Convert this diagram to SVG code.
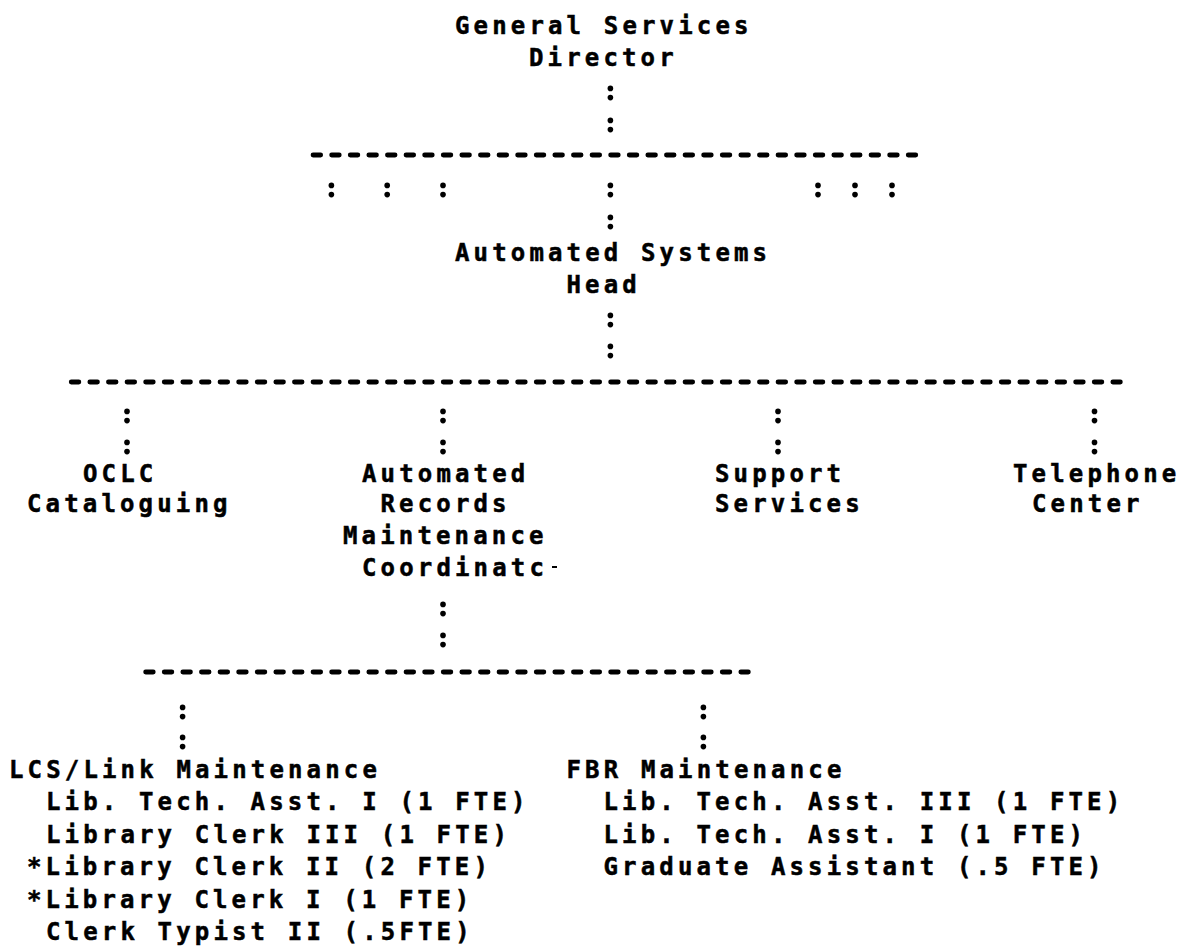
<svg xmlns="http://www.w3.org/2000/svg" xmlns:xlink="http://www.w3.org/1999/xlink" width="1183" height="946" viewBox="0 0 1183 946">
<style>
  text { font-family: "DejaVu Sans Mono", "Liberation Mono", monospace; font-weight: bold; font-size: 24px; letter-spacing: 4.15px; fill: #000; stroke: #000; stroke-width: 0.5px; }
  .dash { stroke: #000; stroke-width: 4.8; stroke-linecap: round; stroke-dasharray: 7.6 11; fill: none; }
  .dot { fill: #000; }
</style>
<defs>
  <g id="colon">
    <circle class="dot" cx="0" cy="-4.6" r="2.8"/>
    <circle class="dot" cx="0" cy="4.6" r="2.8"/>
  </g>
</defs>
<rect x="0" y="0" width="1183" height="946" fill="#fff"/>

<g id="connectors">
  <!-- Director to Head -->
  <use xlink:href="#colon" x="610.4" y="93"/>
  <use xlink:href="#colon" x="610.4" y="125"/>
  <line class="dash" x1="313.05" y1="155" x2="915.75" y2="155"/>
  <use xlink:href="#colon" x="331.4" y="190"/>
  <use xlink:href="#colon" x="387.2" y="190"/>
  <use xlink:href="#colon" x="443" y="190"/>
  <use xlink:href="#colon" x="610.4" y="190"/>
  <use xlink:href="#colon" x="818" y="190"/>
  <use xlink:href="#colon" x="855" y="190"/>
  <use xlink:href="#colon" x="892" y="190"/>
  <use xlink:href="#colon" x="610.4" y="222"/>
  <!-- Head to units -->
  <use xlink:href="#colon" x="610.4" y="320"/>
  <use xlink:href="#colon" x="610.4" y="351"/>
  <line class="dash" x1="71.25" y1="382" x2="1120.35" y2="382"/>
  <use xlink:href="#colon" x="127" y="416"/>
  <use xlink:href="#colon" x="443" y="416"/>
  <use xlink:href="#colon" x="778" y="416"/>
  <use xlink:href="#colon" x="1094.5" y="416"/>
  <use xlink:href="#colon" x="127" y="447"/>
  <use xlink:href="#colon" x="443" y="447"/>
  <use xlink:href="#colon" x="778" y="447"/>
  <use xlink:href="#colon" x="1094.5" y="447"/>
  <!-- Coordinator to sections -->
  <use xlink:href="#colon" x="443" y="609"/>
  <use xlink:href="#colon" x="443" y="640"/>
  <line class="dash" x1="145.65" y1="672" x2="748.35" y2="672"/>
  <use xlink:href="#colon" x="182.6" y="712"/>
  <use xlink:href="#colon" x="703.4" y="712"/>
  <use xlink:href="#colon" x="182.6" y="742"/>
  <use xlink:href="#colon" x="703.4" y="742"/>
</g>

<g id="node-general-services-director">
  <text x="455" y="34">General Services</text>
  <text x="529" y="66">Director</text>
</g>

<g id="node-automated-systems-head">
  <text x="455" y="261">Automated Systems</text>
  <text x="566.5" y="293">Head</text>
</g>

<g id="node-oclc-cataloguing">
  <text x="83" y="482">OCLC</text>
  <text x="27" y="512">Cataloguing</text>
</g>

<g id="node-automated-records-maintenance">
  <text x="362" y="482">Automated</text>
  <text x="380.5" y="512">Records</text>
  <text x="343" y="544">Maintenance</text>
  <text x="362" y="576">Coordinatc</text>
  <rect x="552" y="566" width="5" height="2" fill="#000"/>
</g>

<g id="node-support-services">
  <text x="715" y="482">Support</text>
  <text x="715" y="512">Services</text>
</g>

<g id="node-telephone-center">
  <text x="1013" y="482">Telephone</text>
  <text x="1032" y="512">Center</text>
</g>

<g id="node-lcs-link-maintenance">
  <text x="9" y="778">LCS/Link Maintenance</text>
  <text x="46" y="810">Lib. Tech. Asst. I (1 FTE)</text>
  <text x="46" y="843">Library Clerk III (1 FTE)</text>
  <text x="27" y="875">*Library Clerk II (2 FTE)</text>
  <text x="27" y="908">*Library Clerk I (1 FTE)</text>
  <text x="46" y="940">Clerk Typist II (.5FTE)</text>
</g>

<g id="node-fbr-maintenance">
  <text x="566.5" y="778">FBR Maintenance</text>
  <text x="603.5" y="810">Lib. Tech. Asst. III (1 FTE)</text>
  <text x="603.5" y="843">Lib. Tech. Asst. I (1 FTE)</text>
  <text x="603.5" y="875">Graduate Assistant (.5 FTE)</text>
</g>
</svg>
